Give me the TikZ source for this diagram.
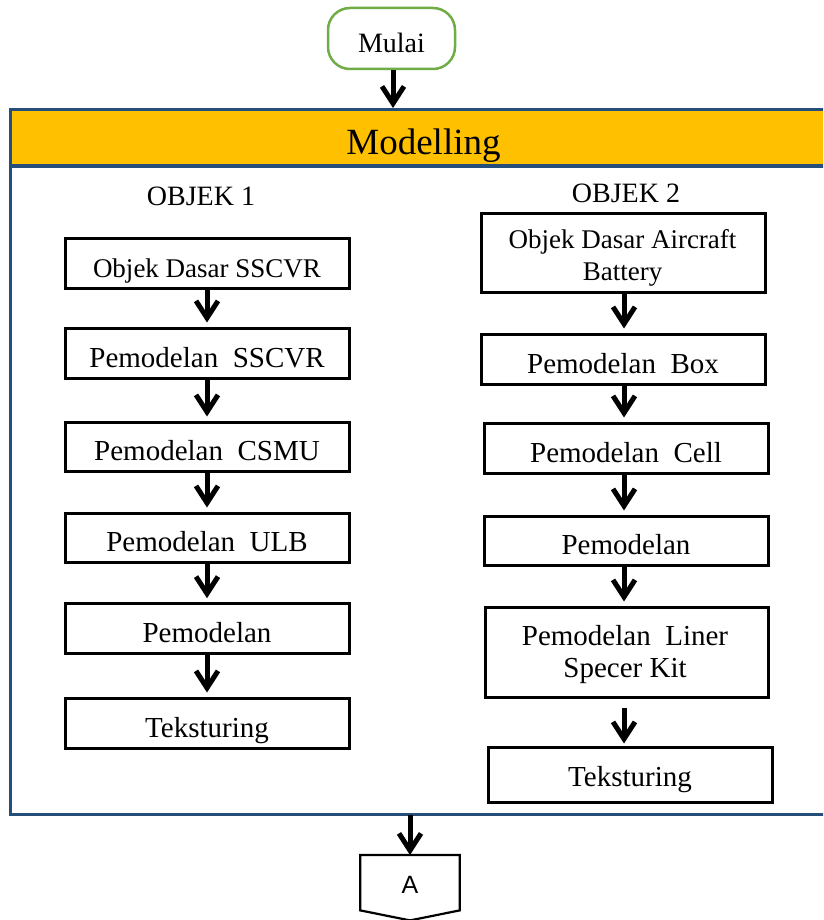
\documentclass[tikz,border=0pt]{standalone}
\usepackage{fontspec}
\setmainfont{Liberation Serif}
\newfontfamily\sansA{Liberation Sans}
\usetikzlibrary{arrows.meta}
\definecolor{frameblue}{RGB}{37,79,122}
\definecolor{bandorange}{RGB}{255,192,0}
\definecolor{startgreen}{RGB}{112,173,71}
\tikzset{
  box/.style={draw=black, line width=3pt, fill=white, inner sep=0pt,
    font=\fontsize{29}{32}\selectfont, text height=28pt, text depth=0pt},
  flow/.style={line width=5pt, -{Straight Barb[length=17pt,width=22pt]}},
  lbl/.style={font=\fontsize{27}{32}\selectfont, anchor=base, inner sep=0pt},
  head/.style={font=\fontsize{28}{32}\selectfont, anchor=base, inner sep=0pt},
}
\begin{document}
\begin{tikzpicture}[x=1pt,y=-1pt]
\clip (0,0) rectangle (823,920);
% frame
\fill[white] (0,0) rectangle (823,920);
\draw[frameblue, line width=3pt, fill=white] (10,109.5) rectangle (845,814);
\fill[bandorange] (11.5,110.8) rectangle (845,164);
\draw[frameblue, line width=4.5pt] (10,166) -- (845,166);
\node[font=\fontsize{37}{40}\selectfont, anchor=base, inner sep=0pt] (title) at (423.5,155) {Modelling};
\coordinate (ftop) at (393,108);
\coordinate (fbot) at (410,815);
% start
\node[draw=startgreen, line width=2.5pt, rounded corners=22pt, fill=white,
  minimum width=127pt, minimum height=61pt, inner sep=0pt,
  font=\fontsize{28}{32}\selectfont, text height=29pt, text depth=0pt] (mulai) at (391.5,38.5) {Mulai};
\draw[flow] (mulai.south -| ftop) -- (ftop);
% headings
\node[head] (obj1) at (201,205) {OBJEK 1};
\node[head] (obj2) at (626,202) {OBJEK 2};
% left column
\node[box, minimum width=284pt, minimum height=50pt, font=\fontsize{27}{32}\selectfont] (l1) at (207,263) {Objek Dasar SSCVR};
\node[box, minimum width=284pt, minimum height=50pt] (l2) at (207,353) {Pemodelan\ \ SSCVR};
\node[box, minimum width=284pt, minimum height=49pt] (l3) at (207,446.5) {Pemodelan\ \ CSMU};
\node[box, minimum width=284pt, minimum height=49pt] (l4) at (207,537.5) {Pemodelan\ \ ULB};
\node[box, minimum width=284pt, minimum height=50pt] (l5) at (207,628.7) {Pemodelan};
\node[box, minimum width=284pt, minimum height=50pt] (l6) at (207,723) {Teksturing};
\foreach \a/\b in {l1/l2,l2/l3,l3/l4,l4/l5,l5/l6}
  \draw[flow] (\a.south) -- ([yshift=4pt]\b.north);
% right column
\node[box, minimum width=284pt, minimum height=79pt] (r1) at (623,252.5) {};
\node[lbl] (r1a) at (622.5,248) {Objek Dasar Aircraft};
\node[lbl] (r1b) at (622.5,280) {Battery};
\node[box, minimum width=284pt, minimum height=50pt] (r2) at (623,359) {Pemodelan\ \ Box};
\node[box, minimum width=284pt, minimum height=50pt] (r3) at (626,448) {Pemodelan\ \ Cell};
\node[box, minimum width=284pt, minimum height=49pt] (r4) at (626,540.5) {Pemodelan};
\node[box, minimum width=283pt, minimum height=90pt] (r5) at (626.5,652) {};
\node[head, font=\fontsize{29}{32}\selectfont] (r5a) at (625,645) {Pemodelan\ \ Liner};
\node[head, font=\fontsize{29}{32}\selectfont] (r5b) at (625,677) {Specer Kit};
\node[box, minimum width=284pt, minimum height=55pt, text height=24pt] (r6) at (630,774.5) {Teksturing};
\draw[flow] (r1.south -| 624,0) -- ([yshift=4pt]r2.north -| 624,0);
\draw[flow] (r2.south -| 624,0) -- ([yshift=4pt]r3.north -| 624,0);
\draw[flow] (r3.south -| 624,0) -- ([yshift=4pt]r4.north -| 624,0);
\draw[flow] (r4.south -| 624,0) -- ([yshift=4pt]r5.north -| 624,0);
\draw[flow] ([yshift=-9pt]r5.south -| 624,0) -- ([yshift=2pt]r6.north -| 624,0);
% off-page connector
\node[minimum width=99pt, minimum height=65pt, anchor=north, inner sep=0pt,
  font=\sansA\fontsize{25}{28}\selectfont, text height=11pt, text depth=0pt] (conA) at (410,855) {A};
\draw[line width=2.2pt, line join=miter] (conA.north west) -- (conA.north east) -- ([yshift=10pt]conA.south east)
  -- (conA.south) -- ([yshift=10pt]conA.south west) -- cycle;
\draw[flow] (fbot) -- (conA.north);
\end{tikzpicture}
\end{document}
